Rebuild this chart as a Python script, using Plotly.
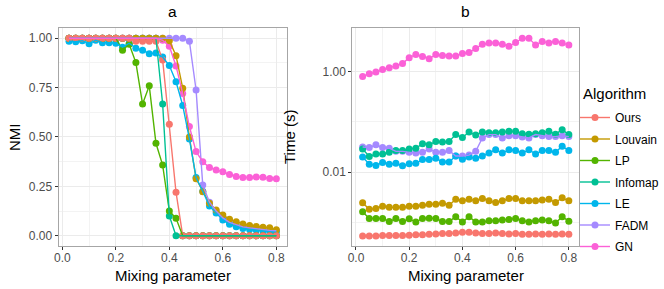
import plotly.graph_objects as go

mixing = [0.025, 0.05, 0.075, 0.1, 0.125, 0.15, 0.175, 0.2, 0.225, 0.25, 0.275, 0.3,
          0.325, 0.35, 0.375, 0.4, 0.425, 0.45, 0.475, 0.5, 0.525, 0.55, 0.575, 0.6,
          0.625, 0.65, 0.675, 0.7, 0.725, 0.75, 0.775, 0.8]

algorithms = ["Ours", "Louvain", "LP", "Infomap", "LE", "FADM", "GN"]
colors = ["#F8766D", "#C49A00", "#53B400", "#00C094", "#00B6EB", "#A58AFF", "#FB61D7"]

# Panel a: NMI
nmi_ours = [1, 1, 1, 1, 1, 1, 1, 1, 1, 1, 0.985, 0.985, 0.985, 0.985, 0.89, 0.565, 0.22,
            0, 0, 0, 0, 0, 0, 0, 0, 0, 0, 0, 0, 0, 0, 0]
nmi_louvain = [1, 1, 1, 1, 1, 1, 1, 1, 1, 1, 1, 1, 1, 1, 1, 0.988, 0.912, 0.747, 0.50,
               0.288, 0.223, 0.165, 0.13, 0.105, 0.083, 0.071, 0.06, 0.052, 0.047, 0.043, 0.04, 0.03]
nmi_lp = [1, 1, 1, 1, 1, 1, 1, 1, 0.94, 0.97, 0.877, 0.667, 0.759, 0.468, 0.358, 0.125, 0.088,
          0, 0, 0, 0, 0, 0, 0, 0, 0, 0, 0, 0, 0, 0, 0]
nmi_infomap = [1, 1, 1, 1, 1, 1, 1, 1, 1, 1, 1, 1, 1, 1, 0.667, 0.10,
               0, 0, 0, 0, 0, 0, 0, 0, 0, 0, 0, 0, 0, 0, 0, 0]
nmi_le = [0.985, 0.983, 0.988, 0.972, 0.99, 0.978, 0.978, 0.975, 0.955, 0.975, 0.95, 0.94,
          0.922, 0.925, 0.905, 0.862, 0.78, 0.66, 0.49, 0.295, 0.225, 0.15, 0.115, 0.08,
          0.058, 0.045, 0.037, 0.032, 0.028, 0.025, 0.022, 0.02]
nmi_fadm = [1, 1, 1, 1, 1, 1, 1, 1, 1, 1, 1, 1, 1, 1, 1, 1, 1, 1, 0.985, 0.738, 0.257,
            0.17, 0.125, 0.09, 0.068, 0.055, 0.045, 0.04, 0.035, 0.03, 0.027, 0.025]
nmi_gn = [1, 1, 1, 1, 1, 1, 1, 1, 1, 1, 1, 1, 1, 1, 0.99, 0.96, 0.86, 0.72, 0.553, 0.426,
          0.375, 0.345, 0.333, 0.324, 0.31, 0.30, 0.295, 0.295, 0.298, 0.296, 0.29, 0.289]

# Panel b: Time (s)
time_ours = [0.00054, 0.00054, 0.00054, 0.00055, 0.00055, 0.00055, 0.00055, 0.00056,
             0.00057, 0.00057, 0.00058, 0.00059, 0.0006, 0.0006, 0.00062, 0.00064,
             0.00064, 0.00062, 0.0006, 0.0006, 0.00062, 0.0006, 0.00059, 0.0006,
             0.00058, 0.00058, 0.00059, 0.00058, 0.00059, 0.00058, 0.00059, 0.00058]
time_louvain = [0.00247, 0.00183, 0.0019, 0.0021, 0.0020, 0.0020, 0.0020, 0.0021,
                0.0021, 0.0022, 0.0023, 0.0023, 0.0024, 0.0022, 0.0029, 0.0027,
                0.0029, 0.0027, 0.0030, 0.0027, 0.0025, 0.0027, 0.0030, 0.0030,
                0.0027, 0.0027, 0.0027, 0.0028, 0.0029, 0.0025, 0.0031, 0.0027]
time_lp = [0.00163, 0.0012, 0.0012, 0.0012, 0.00104, 0.0012, 0.00104, 0.00119,
           0.00102, 0.0012, 0.00122, 0.0012, 0.00104, 0.00104, 0.0013, 0.00102,
           0.0013, 0.00102, 0.00102, 0.00108, 0.00108, 0.00112, 0.00115, 0.0012,
           0.00108, 0.00102, 0.00108, 0.00112, 0.00108, 0.00098, 0.0013, 0.00106]
time_infomap = [0.029, 0.0206, 0.023, 0.023, 0.025, 0.027, 0.027, 0.029,
                0.030, 0.037, 0.035, 0.041, 0.040, 0.041, 0.056, 0.049,
                0.063, 0.055, 0.063, 0.061, 0.061, 0.063, 0.065, 0.065,
                0.058, 0.057, 0.058, 0.061, 0.065, 0.057, 0.070, 0.056]
time_le = [0.020, 0.0144, 0.0136, 0.0156, 0.0144, 0.015, 0.0134, 0.0147,
           0.015, 0.0178, 0.0178, 0.019, 0.016, 0.016, 0.021, 0.018,
           0.020, 0.019, 0.021, 0.024, 0.028, 0.024, 0.028, 0.027,
           0.024, 0.028, 0.023, 0.027, 0.027, 0.025, 0.033, 0.027]
time_fadm = [0.0316, 0.031, 0.035, 0.031, 0.030, 0.026, 0.026, 0.025,
             0.024, 0.025, 0.029, 0.025, 0.025, 0.027, 0.021, 0.021,
             0.022, 0.026, 0.048, 0.056, 0.056, 0.048, 0.053, 0.053,
             0.050, 0.048, 0.056, 0.053, 0.051, 0.051, 0.053, 0.051]
time_gn = [0.8, 0.91, 0.98, 1.1, 1.2, 1.3, 1.45, 1.9, 2.2, 2.0, 1.8, 2.2, 2.1, 2.05, 2.05, 2.3,
           2.4, 2.9, 3.5, 3.7, 3.7, 3.5, 3.2, 3.8, 4.6, 4.6, 3.4, 4.0, 3.7, 4.0, 3.7, 3.4]

nmi_series = [nmi_ours, nmi_louvain, nmi_lp, nmi_infomap, nmi_le, nmi_fadm, nmi_gn]
time_series = [time_ours, time_louvain, time_lp, time_infomap, time_le, time_fadm, time_gn]

FONT = "Liberation Sans, Arial, sans-serif"
MS = 7
LW = 1.4

fig = go.Figure()

# points first (reverse order so "Ours" ends on top), then lines on top
for xa, ya, series in [("x", "y", nmi_series), ("x2", "y2", time_series)]:
    for i in reversed(range(len(algorithms))):
        fig.add_trace(go.Scatter(x=mixing, y=series[i], mode="markers", xaxis=xa, yaxis=ya,
                                 marker=dict(color=colors[i], size=MS), showlegend=False,
                                 hoverinfo="skip"))
    for i in range(len(algorithms)):
        fig.add_trace(go.Scatter(x=mixing, y=series[i], mode="lines", xaxis=xa, yaxis=ya,
                                 line=dict(color=colors[i], width=LW), showlegend=False,
                                 hoverinfo="skip"))

# legend entries
for i, name in enumerate(algorithms):
    fig.add_trace(go.Scatter(x=[None], y=[None], mode="lines+markers", name=name,
                             legendgroup=name, xaxis="x", yaxis="y",
                             line=dict(color=colors[i], width=LW),
                             marker=dict(color=colors[i], size=MS)))

xr = [-0.01375, 0.83875]
ydom = [0.1502, 0.9017]
xa_dom = [0.0883, 0.4318]
xb_dom = [0.5306, 0.8722]
common = dict(showline=True, mirror=True, linecolor="#a6a6a6", linewidth=1,
              ticks="outside", ticklen=3, tickcolor="#333333", tickwidth=1,
              tickfont=dict(family=FONT, size=12, color="#4d4d4d"),
              gridcolor="#ebebeb", gridwidth=1, zeroline=False)

xticks = dict(tickmode="array", tickvals=[0, 0.2, 0.4, 0.6, 0.8],
              ticktext=["0.0", "0.2", "0.4", "0.6", "0.8"], ticklabelstandoff=-2,
              minor=dict(tickmode="array", tickvals=[0.1, 0.3, 0.5, 0.7],
                         showgrid=True, gridcolor="#f3f3f3", gridwidth=0.6, ticks=""))

TS = 15


def ann(text, x, y, angle=0, xanchor="center", size=TS):
    return dict(text=text, x=x, y=y, xref="paper", yref="paper", xanchor=xanchor,
                yanchor="middle", showarrow=False, textangle=angle,
                font=dict(size=size, family=FONT, color="black"))


fig.update_layout(
    width=664, height=289, autosize=False,
    margin=dict(l=0, r=0, t=0, b=0, autoexpand=False),
    paper_bgcolor="white", plot_bgcolor="white",
    font=dict(family=FONT, color="black"),
    xaxis=dict(domain=xa_dom, range=xr, anchor="y", **xticks, **common),
    yaxis=dict(domain=ydom, range=[-0.05, 1.05], anchor="x",
               tickmode="array", tickvals=[0, 0.25, 0.5, 0.75, 1.0],
               ticktext=["0.00", "0.25", "0.50", "0.75", "1.00"],
               minor=dict(tickmode="array", tickvals=[0.125, 0.375, 0.625, 0.875],
                          showgrid=True, gridcolor="#f3f3f3", gridwidth=0.6, ticks=""),
               **common),
    xaxis2=dict(domain=xb_dom, range=xr, anchor="y2", **xticks, **common),
    yaxis2=dict(domain=ydom, type="log", range=[-3.46, 0.86], anchor="x2",
                tickmode="array", tickvals=[0.01, 1.0], ticktext=["0.01", "1.00"],
                minor=dict(tickmode="array", tickvals=[0.001, 0.1],
                           showgrid=True, gridcolor="#f3f3f3", gridwidth=0.6, ticks=""),
                **common),
    legend=dict(x=575 / 664, xanchor="left", y=1 - 103 / 289, yanchor="top",
                font=dict(family=FONT, size=12, color="black"),
                bgcolor="rgba(0,0,0,0)", tracegroupgap=2.5, itemwidth=30),
    annotations=[
        ann("a", sum(xa_dom) / 2, 1 - 12 / 289, size=15.5),
        ann("b", sum(xb_dom) / 2, 1 - 12 / 289, size=15.5),
        ann("Mixing parameter", sum(xa_dom) / 2, 1 - 275 / 289),
        ann("Mixing parameter", sum(xb_dom) / 2, 1 - 275 / 289),
        ann("NMI", 15 / 664, 1 - 137 / 289, -90),
        ann("Time (s)", 290 / 664, 1 - 137 / 289, -90),
        ann("Algorithm", 581 / 664, 1 - 93 / 289, xanchor="left"),
    ],
)

fig.write_html("out.html", config={"displayModeBar": False},
               post_script="document.body.style.margin='0px';")
